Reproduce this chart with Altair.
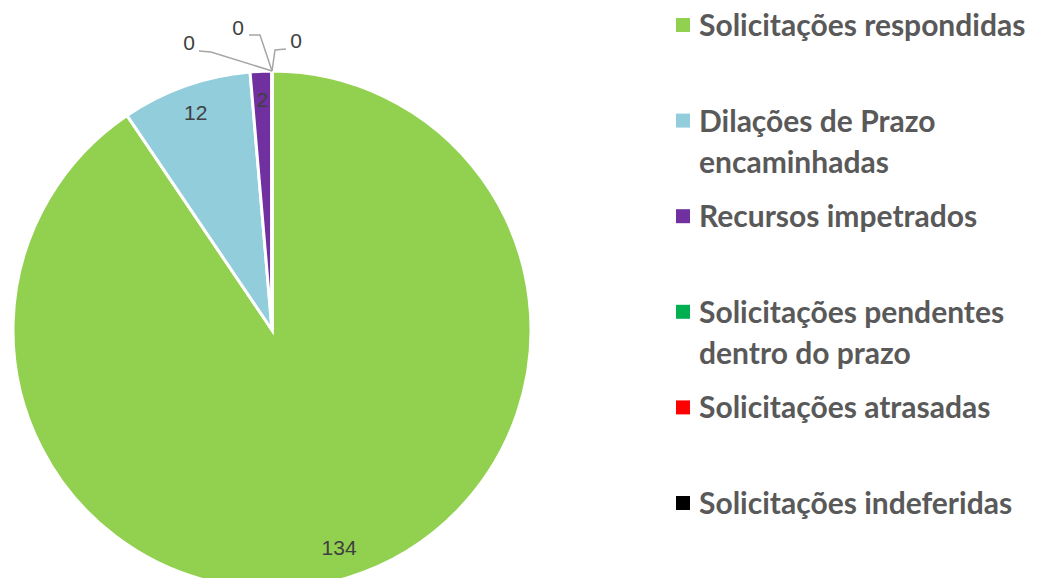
import math
import altair as alt
import pandas as pd

# ---- data ----
categories = [
    "Solicitações respondidas",
    "Dilações de Prazo encaminhadas",
    "Recursos impetrados",
    "Solicitações pendentes dentro do prazo",
    "Solicitações atrasadas",
    "Solicitações indeferidas",
]
values = [134, 12, 2, 0, 0, 0]
legend_labels = [
    "Solicitações respondidas",
    "Dilações de Prazo\nencaminhadas",
    "Recursos impetrados",
    "Solicitações pendentes\ndentro do prazo",
    "Solicitações atrasadas",
    "Solicitações indeferidas",
]
colors = ["#92D050", "#92CDDC", "#7030A0", "#00B050", "#FF0000", "#000000"]

# ---- style / layout ----
CX, CY, R = 264, 322, 259
LABEL_R = 229
# offsets (pixels) for the leader lines of zero-valued slices: elbow, end, label
zero_offsets = {
    "Solicitações pendentes dentro do prazo": [(-61, -19), (-73, -20), (-83, -27)],
    "Solicitações atrasadas": [(-12, -36), (-23, -36), (-34, -42)],
    "Solicitações indeferidas": [(3, -21), (14, -22), (24, -29)],
}

df = pd.DataFrame({
    "cat": categories,
    "value": values,
    "idx": list(range(len(categories))),
    "legend": legend_labels,
})

total = sum(values)
cum = 0
line_rows, zlabel_rows = [], []
for c, v in zip(categories, values):
    start = cum
    cum += v
    if v == 0 and c in zero_offsets:
        a = (start + v / 2) / total * 2 * math.pi
        ax = CX + R * math.sin(a)
        ay = CY - R * math.cos(a)
        (ex, ey), (tx, ty), (lx, ly) = zero_offsets[c]
        line_rows += [
            {"cat": c, "pt": 0, "x": ax, "y": ay},
            {"cat": c, "pt": 1, "x": ax + ex, "y": ay + ey},
            {"cat": c, "pt": 2, "x": ax + tx, "y": ay + ty},
        ]
        zlabel_rows.append({"cat": c, "x": ax + lx, "y": ay + ly, "value": v})
lines_df = pd.DataFrame(line_rows)
zl_df = pd.DataFrame(zlabel_rows)

color_scale = alt.Scale(domain=categories, range=colors)

pie = alt.Chart(df).mark_arc(outerRadius=R, stroke="white", strokeWidth=3).encode(
    theta=alt.Theta("value:Q", stack=True),
    color=alt.Color("cat:N", scale=color_scale, legend=None),
    order=alt.Order("idx:Q"),
    x=alt.value(CX),
    y=alt.value(CY),
)

labels = alt.Chart(df).transform_filter("datum.value > 0").mark_text(
    radius=LABEL_R, font="Liberation Sans", fontSize=21, color="#404040",
    align="center", baseline="middle",
).encode(
    theta=alt.Theta("value:Q", stack=True),
    order=alt.Order("idx:Q"),
    text=alt.Text("value:Q"),
    x=alt.value(CX),
    y=alt.value(CY),
)

leaders = alt.Chart(lines_df).mark_line(color="#A6A6A6", strokeWidth=1.5).encode(
    x=alt.X("x:Q", scale=None, axis=None),
    y=alt.Y("y:Q", scale=None, axis=None),
    detail="cat:N",
    order="pt:Q",
)

zlabels = alt.Chart(zl_df).mark_text(
    font="Liberation Sans", fontSize=21, color="#404040", align="center", baseline="middle",
).encode(
    x=alt.X("x:Q", scale=None, axis=None),
    y=alt.Y("y:Q", scale=None, axis=None),
    text=alt.Text("value:Q"),
)

leg_y = alt.Y(
    "cat:N",
    scale=alt.Scale(type="point", domain=categories, range=[17, 495], padding=0),
    axis=None,
)

leg_sym = alt.Chart(df).mark_square(size=196, opacity=1).encode(
    x=alt.value(675),
    y=leg_y,
    color=alt.Color("cat:N", scale=color_scale, legend=None),
)

leg_txt = alt.Chart(df).mark_text(
    font="Lato", fontWeight="bold", fontSize=30, color="#595959",
    align="left", baseline="alphabetic", dy=11, lineBreak="\n", lineHeight=41,
).encode(
    x=alt.value(691),
    y=leg_y,
    text="legend:N",
)

chart = alt.layer(pie, labels, leaders, zlabels, leg_sym, leg_txt).resolve_scale(
    x="independent", y="independent"
).properties(
    width=1038, height=570, padding=0, autosize=alt.AutoSizeParams(type="none")
).configure_view(stroke=None)

chart.save("out.html", embed_options={"renderer": "svg", "actions": False})
